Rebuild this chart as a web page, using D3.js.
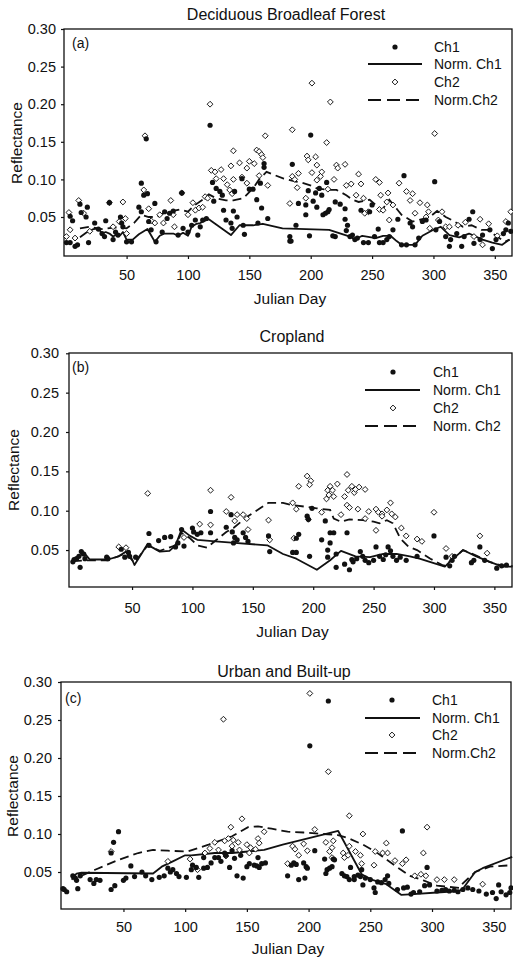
<!DOCTYPE html>
<html><head><meta charset="utf-8">
<script src="https://cdn.jsdelivr.net/npm/d3@7"></script>
<style>
body{margin:0;background:#fff}
svg{display:block}
text{font-family:"Liberation Sans",Arial,Helvetica,sans-serif;fill:#111}
</style>
</head><body>
<svg id="chart" width="513" height="962"></svg>
<script>
// ---------- data ----------
const xTicks=[50,100,150,200,250,300,350];
const yTicks=[0.05,0.10,0.15,0.20,0.25,0.30];
const titles=["Deciduous Broadleaf Forest","Cropland","Urban and Built-up"];
const panelLabels=["(a)","(b)","(c)"];
const legendA=["Ch1","Norm. Ch1","Ch2","Norm.Ch2"];
const legendB=["Ch1","Norm. Ch1","Ch2","Norm. Ch2"];
const legendC=["Ch1","Norm. Ch1","Ch2","Norm.Ch2"];
const xLabel="Julian Day";
const yLabel="Reflectance";

// Panel (a) Deciduous Broadleaf Forest : [day, reflectance]
const aCh1=[[1,0.016],[4,0.016],[8,0.011],[10,0.013],[4,0.051],[6,0.045],[12,0.067],[13,0.056],[17,0.050],[18,0.063],[19,0.016],[24,0.042],[27,0.034],[30,0.028],[32,0.024],[33,0.045],[36,0.069],[39,0.020],[41,0.030],[43,0.026],[45,0.050],[46,0.042],[47,0.037],[50,0.017],[54,0.017],[60,0.063],[62,0.095],[64,0.079],[66,0.154],[67,0.081],[62,0.057],[68,0.044],[70,0.033],[73,0.068],[74,0.017],[79,0.030],[81,0.057],[83,0.048],[85,0.055],[88,0.058],[92,0.026],[95,0.082],[96,0.035],[100,0.030],[103,0.039],[106,0.046],[108,0.026],[110,0.037],[112,0.046],[115,0.048],[118,0.172],[120,0.096],[121,0.071],[123,0.088],[126,0.084],[128,0.079],[129,0.059],[131,0.046],[135,0.042],[136,0.035],[137,0.058],[138,0.084],[140,0.050],[144,0.101],[145,0.039],[146,0.027],[150,0.087],[153,0.087],[156,0.073],[157,0.042],[159,0.095],[160,0.062],[162,0.121],[162,0.116],[165,0.048],[183,0.018],
[200,0.159],[185,0.120],[183,0.024],[184,0.018],[188,0.039],[190,0.068],[196,0.066],[196,0.053],[198,0.085],[199,0.025],[202,0.071],[204,0.082],[205,0.063],[207,0.088],[209,0.079],[210,0.053],[212,0.055],[213,0.096],[214,0.057],[215,0.060],[218,0.025],[220,0.024],[220,0.070],[224,0.067],[228,0.061],[228,0.047],[229,0.032],[230,0.039],[232,0.024],[234,0.026],[236,0.020],[238,0.022],[241,0.059],[243,0.016],[247,0.016],[248,0.057],[250,0.066],[252,0.024],[255,0.034],[256,0.016],[259,0.016],[262,0.020],[264,0.024],[267,0.033],[271,0.047],[274,0.013],[276,0.105],[278,0.013],[281,0.042],[283,0.037],[285,0.013],[288,0.022],[291,0.044],[294,0.046],[301,0.097],[302,0.033],[305,0.044],[310,0.024],[313,0.011],[314,0.020],[319,0.028],[323,0.011],[325,0.024],[329,0.047],[332,0.057],[333,0.015],[338,0.020],[340,0.026],[346,0.033],[348,0.008],[351,0.020],[357,0.028],[359,0.033],[361,0.042],[363,0.031]];
const aCh2=[[1,0.024],[3,0.056],[4,0.033],[11,0.072],[8,0.022],[15,0.055],[20,0.031],[36,0.069],[39,0.037],[44,0.044],[47,0.070],[49,0.048],[50,0.028],[65,0.158],[64,0.086],[68,0.061],[70,0.045],[73,0.042],[77,0.053],[80,0.042],[86,0.072],[88,0.053],[89,0.037],[95,0.082],[100,0.053],[104,0.069],[106,0.059],[109,0.062],[112,0.063],[114,0.077],[116,0.075],[118,0.200],[119,0.112],[122,0.110],[123,0.101],[127,0.113],[129,0.101],[132,0.093],[134,0.086],[135,0.118],[136,0.081],[137,0.138],[137,0.100],[142,0.122],[144,0.103],[148,0.095],[148,0.115],[150,0.124],[154,0.121],[156,0.139],[158,0.137],[160,0.133],[161,0.129],[158,0.105],[163,0.158],[165,0.092],[183,0.068],
[185,0.166],[213,0.149],[197,0.131],[198,0.126],[204,0.130],[185,0.104],[187,0.100],[190,0.108],[189,0.089],[196,0.075],[201,0.109],[205,0.099],[205,0.119],[208,0.104],[209,0.110],[214,0.087],[219,0.100],[221,0.119],[222,0.115],[228,0.120],[229,0.092],[233,0.094],[237,0.079],[239,0.107],[241,0.094],[243,0.075],[244,0.055],[247,0.057],[253,0.100],[256,0.096],[257,0.079],[256,0.060],[259,0.059],[262,0.070],[263,0.082],[264,0.046],[272,0.095],[267,0.066],[278,0.084],[283,0.081],[281,0.072],[285,0.055],[289,0.069],[294,0.050],[295,0.066],[296,0.057],[301,0.161],[304,0.046],[307,0.057],[297,0.035],[310,0.037],[313,0.037],[320,0.039],[326,0.043],[338,0.047],[340,0.013],[345,0.041],[352,0.025],[359,0.044],[363,0.057],[333,0.024],[201,0.228],[216,0.203]];
const aNorm1=[[12,0.023],[17,0.029],[23,0.034],[27,0.035],[30,0.028],[33,0.030],[36,0.028],[39,0.024],[42,0.027],[45,0.026],[47,0.030],[50,0.020],[55,0.020],[60,0.027],[67,0.034],[73,0.017],[77,0.025],[81,0.028],[88,0.028],[92,0.025],[96,0.029],[100,0.025],[103,0.037],[107,0.041],[110,0.042],[114,0.045],[117,0.047],[135,0.026],[142,0.039],[153,0.039],[161,0.041],[177,0.035],[215,0.033],[232,0.024],[236,0.020],[242,0.025],[253,0.022],[259,0.025],[265,0.025],[270,0.018],[274,0.013],[285,0.013],[291,0.025],[300,0.033],[306,0.037],[313,0.026],[321,0.023],[329,0.028],[340,0.020],[348,0.016],[356,0.013],[362,0.020]];
const aNorm2=[[12,0.035],[20,0.037],[30,0.034],[40,0.036],[50,0.035],[56,0.042],[62,0.053],[68,0.050],[75,0.050],[80,0.055],[88,0.058],[93,0.060],[100,0.057],[105,0.065],[111,0.072],[117,0.080],[123,0.075],[131,0.072],[137,0.072],[145,0.075],[153,0.088],[158,0.100],[164,0.110],[178,0.101],[188,0.097],[192,0.096],[202,0.091],[205,0.088],[215,0.086],[221,0.086],[229,0.079],[234,0.073],[239,0.070],[248,0.073],[258,0.059],[264,0.073],[271,0.059],[274,0.053],[283,0.044],[288,0.046],[297,0.050],[303,0.058],[310,0.050],[316,0.045],[324,0.037],[331,0.039],[339,0.033],[344,0.033],[358,0.017],[362,0.020]];

// Panel (b) Cropland
const bCh1=[[1,0.035],[2,0.038],[4,0.039],[6,0.042],[7,0.028],[8,0.048],[10,0.045],[11,0.039],[29,0.041],[30,0.039],[41,0.051],[44,0.041],[47,0.047],[48,0.042],[53,0.041],[64,0.071],[64,0.056],[72,0.062],[77,0.066],[82,0.067],[86,0.054],[88,0.059],[91,0.076],[93,0.055],[100,0.078],[101,0.073],[104,0.070],[107,0.072],[115,0.072],[115,0.099],[128,0.079],[132,0.095],[133,0.073],[134,0.059],[135,0.066],[137,0.063],[142,0.072],[144,0.066],[146,0.061],[163,0.068],[164,0.048],
[183,0.047],[186,0.047],[195,0.093],[196,0.089],[197,0.042],[186,0.065],[188,0.070],[199,0.103],[207,0.063],[210,0.087],[212,0.050],[212,0.041],[214,0.059],[214,0.072],[217,0.072],[219,0.045],[219,0.028],[226,0.032],[228,0.072],[230,0.025],[232,0.038],[233,0.035],[236,0.039],[239,0.048],[241,0.042],[243,0.037],[246,0.034],[250,0.037],[252,0.054],[255,0.042],[258,0.038],[260,0.044],[262,0.054],[264,0.049],[266,0.042],[269,0.037],[272,0.041],[277,0.037],[286,0.042],[300,0.068],[310,0.041],[313,0.030],[315,0.037],[317,0.042],[331,0.034],[333,0.037],[338,0.054],[342,0.037],[352,0.027],[356,0.030],[360,0.031]];
const bCh2=[[39,0.054],[45,0.053],[63,0.122],[93,0.066],[106,0.083],[115,0.126],[115,0.082],[128,0.099],[132,0.117],[135,0.087],[137,0.095],[142,0.095],[145,0.090],[146,0.076],[163,0.088],[164,0.063],
[183,0.110],[186,0.102],[188,0.131],[184,0.065],[195,0.144],[198,0.138],[197,0.133],[196,0.089],[207,0.098],[211,0.115],[212,0.126],[214,0.131],[216,0.126],[213,0.120],[217,0.118],[220,0.134],[228,0.146],[226,0.118],[229,0.126],[232,0.131],[234,0.123],[235,0.127],[238,0.130],[243,0.127],[228,0.107],[230,0.104],[223,0.095],[237,0.102],[243,0.090],[246,0.099],[252,0.102],[254,0.098],[257,0.096],[261,0.101],[264,0.110],[265,0.096],[268,0.092],[252,0.075],[273,0.078],[277,0.068],[286,0.064],[290,0.061],[300,0.098],[310,0.052],[315,0.042],[338,0.068],[344,0.046],[257,0.093]];
const bNorm1=[[1,0.037],[6,0.041],[10,0.047],[15,0.038],[30,0.038],[39,0.042],[45,0.048],[48,0.045],[52,0.031],[63,0.058],[66,0.054],[73,0.048],[81,0.049],[86,0.056],[91,0.076],[98,0.068],[104,0.063],[119,0.061],[135,0.059],[162,0.056],[175,0.045],[186,0.039],[203,0.025],[214,0.037],[223,0.049],[235,0.042],[247,0.041],[258,0.045],[269,0.045],[280,0.042],[288,0.039],[309,0.029],[313,0.035],[324,0.050],[335,0.042],[346,0.035],[357,0.029],[365,0.029]];
const bNorm2=[[1,0.036],[15,0.037],[30,0.037],[45,0.046],[52,0.034],[63,0.056],[73,0.049],[86,0.056],[91,0.072],[98,0.065],[104,0.056],[112,0.053],[120,0.063],[128,0.073],[134,0.078],[145,0.092],[156,0.103],[163,0.110],[175,0.110],[183,0.107],[194,0.105],[203,0.103],[214,0.101],[217,0.090],[223,0.086],[230,0.089],[241,0.088],[250,0.086],[255,0.084],[261,0.088],[266,0.084],[272,0.065],[279,0.054],[286,0.050],[297,0.039],[308,0.030],[316,0.039],[324,0.050],[335,0.043],[346,0.035],[357,0.030],[365,0.030]];

// Panel (c) Urban and Built-up
const cCh1=[[1,0.028],[2,0.027],[4,0.024],[9,0.045],[11,0.042],[12,0.039],[13,0.028],[15,0.045],[23,0.040],[26,0.035],[28,0.040],[31,0.039],[40,0.075],[42,0.089],[46,0.103],[40,0.027],[43,0.032],[50,0.039],[52,0.042],[56,0.058],[59,0.044],[65,0.050],[68,0.045],[73,0.040],[79,0.043],[83,0.045],[86,0.055],[88,0.050],[90,0.053],[93,0.048],[95,0.044],[101,0.043],[105,0.053],[106,0.059],[109,0.056],[111,0.043],[115,0.069],[115,0.055],[118,0.056],[121,0.062],[124,0.069],[127,0.069],[129,0.064],[132,0.075],[133,0.072],[136,0.056],[138,0.078],[140,0.068],[142,0.045],[145,0.072],[147,0.042],[150,0.057],[152,0.061],[156,0.059],[158,0.058],[160,0.056],[162,0.061],[165,0.062],[159,0.069],[183,0.045],
[186,0.059],[188,0.062],[190,0.060],[192,0.040],[196,0.062],[198,0.057],[197,0.042],[199,0.055],[205,0.078],[213,0.067],[214,0.048],[215,0.053],[217,0.055],[219,0.057],[220,0.067],[221,0.066],[227,0.048],[229,0.045],[231,0.044],[233,0.040],[234,0.056],[237,0.044],[237,0.040],[240,0.046],[242,0.044],[244,0.033],[243,0.053],[246,0.042],[250,0.040],[253,0.029],[254,0.023],[256,0.037],[259,0.036],[262,0.040],[264,0.045],[265,0.035],[276,0.104],[277,0.029],[280,0.030],[283,0.021],[285,0.023],[290,0.024],[294,0.032],[296,0.056],[298,0.033],[304,0.025],[308,0.026],[311,0.027],[314,0.025],[318,0.026],[321,0.024],[325,0.027],[329,0.029],[333,0.027],[338,0.025],[344,0.021],[349,0.023],[352,0.015],[354,0.033],[356,0.024],[360,0.020],[363,0.023],[364,0.029],[272,0.027],[201,0.216],[216,0.275]];
const cCh2=[[40,0.077],[86,0.064],[104,0.067],[110,0.053],[116,0.075],[120,0.081],[124,0.089],[131,0.251],[132,0.091],[137,0.109],[135,0.094],[139,0.092],[138,0.084],[143,0.089],[146,0.120],[144,0.079],[150,0.086],[153,0.082],[157,0.080],[159,0.094],[160,0.088],[164,0.103],[133,0.071],[127,0.079],[152,0.075],
[216,0.182],[233,0.124],[205,0.106],[187,0.084],[189,0.080],[192,0.072],[183,0.061],[196,0.087],[199,0.078],[214,0.089],[217,0.077],[220,0.091],[219,0.082],[219,0.069],[228,0.075],[229,0.069],[232,0.072],[233,0.084],[238,0.077],[242,0.072],[244,0.100],[243,0.061],[253,0.059],[254,0.077],[260,0.075],[263,0.088],[264,0.075],[270,0.065],[276,0.061],[279,0.066],[286,0.045],[291,0.047],[293,0.075],[296,0.109],[295,0.045],[304,0.040],[310,0.040],[318,0.040],[341,0.034],[201,0.285]];
const cNorm1=[[8,0.040],[12,0.048],[16,0.049],[74,0.048],[81,0.057],[90,0.064],[100,0.072],[105,0.072],[124,0.075],[138,0.075],[164,0.079],[179,0.086],[224,0.104],[243,0.047],[251,0.040],[263,0.034],[275,0.020],[285,0.021],[304,0.023],[322,0.025],[325,0.028],[335,0.050],[341,0.055],[365,0.070]];
const cNorm2=[[16,0.045],[27,0.053],[46,0.066],[62,0.075],[74,0.079],[86,0.078],[102,0.077],[119,0.086],[138,0.097],[151,0.109],[159,0.110],[170,0.107],[183,0.103],[196,0.102],[212,0.100],[223,0.099],[233,0.094],[244,0.086],[254,0.077],[260,0.070],[273,0.055],[282,0.045],[293,0.039],[304,0.032],[322,0.029],[325,0.035],[335,0.050],[347,0.057],[365,0.059]];

// ---------- layout ----------
const panels=[
 {ch1:aCh1,ch2:aCh2,n1:aNorm1,n2:aNorm2,leg:legendA,
  left:64,right:512,top:29,bottom:256,xd:[-1,364],yr:[254.6,29],
  titleX:286,titleY:20,ylabX:17,ylabY:143,yPad:5,xPad:11,xlabY:304,
  plX:72,plY:48,legRows:[47,64,82,100],legText:434,legSym:395,legL:368,legR:422},
 {ch1:bCh1,ch2:bCh2,n1:bNorm1,n2:bNorm2,leg:legendB,
  left:69,right:512,top:353,bottom:587,xd:[-2.2,364.6],yr:[589.4,353.3],
  titleX:292,titleY:342,ylabX:14,ylabY:470,yPad:7,xPad:13,xlabY:637,
  plX:72,plY:372,legRows:[372,390,408,426],legText:433,legSym:393,legL:365,legR:420},
 {ch1:cCh1,ch2:cCh2,n1:cNorm1,n2:cNorm2,leg:legendC,
  left:61,right:511,top:682,bottom:909,xd:[-0.6,364],yr:[910,682],
  titleX:284,titleY:677,ylabX:13,ylabY:796,yPad:6,xPad:10,xlabY:954,
  plX:65,plY:703,legRows:[700,718,735,753],legText:432,legSym:392,legL:365,legR:420}
];

const svg=d3.select("#chart");
const ink="#111";
const diamond=d3.symbol().type(d3.symbolSquare).size(17);

panels.forEach((p,i)=>{
  const x=d3.scaleLinear().domain(p.xd).range([p.left,p.right]);
  const y=d3.scaleLinear().domain([0,0.3]).range(p.yr);
  const g=svg.append("g");

  // title
  g.append("text").attr("x",p.titleX).attr("y",p.titleY).attr("text-anchor","middle")
   .style("font-size","16px").text(titles[i]);

  // axes
  const yAx=g.append("g").attr("transform",`translate(${p.left},0)`)
   .call(d3.axisLeft(y).tickValues(yTicks).tickSize(3).tickPadding(p.yPad).tickFormat(d3.format(".2f")));
  const xAx=g.append("g").attr("transform",`translate(0,${p.bottom})`)
   .call(d3.axisBottom(x).tickValues(xTicks).tickSize(3).tickPadding(p.xPad));
  [yAx,xAx].forEach(a=>{
    a.select(".domain").remove();
    a.selectAll(".tick line").attr("stroke",ink).attr("stroke-width",1.2);
    a.selectAll(".tick text").style("font-size","14.5px").attr("fill",ink)
      .style("font-family","'Liberation Sans',Arial,sans-serif");
  });

  // frame
  g.append("rect").attr("x",p.left).attr("y",p.top)
   .attr("width",p.right-p.left).attr("height",p.bottom-p.top)
   .attr("fill","none").attr("stroke",ink).attr("stroke-width",1.3);

  // axis labels
  g.append("text").attr("transform",`translate(${p.ylabX},${p.ylabY}) rotate(-90)`)
   .attr("text-anchor","middle").attr("dy","0.35em").style("font-size","15.5px").text(yLabel);
  g.append("text").attr("x",(p.left+p.right)/2+2).attr("y",p.xlabY).attr("text-anchor","middle")
   .style("font-size","15.5px").text(xLabel);

  // panel label
  g.append("text").attr("x",p.plX).attr("y",p.plY).style("font-size","14px").text(panelLabels[i]);

  // lines
  const line=d3.line().x(d=>x(d[0])).y(d=>y(d[1]));
  g.append("path").datum(p.n1).attr("d",line).attr("fill","none")
   .attr("stroke",ink).attr("stroke-width",1.8).attr("stroke-linejoin","round");
  g.append("path").datum(p.n2).attr("d",line).attr("fill","none")
   .attr("stroke",ink).attr("stroke-width",1.8).attr("stroke-dasharray","9,5");

  // Ch2 diamonds
  g.append("g").selectAll("path").data(p.ch2).join("path")
   .attr("d",diamond).attr("transform",d=>`translate(${x(d[0])},${y(d[1])}) rotate(45)`)
   .attr("fill","#fff").attr("stroke",ink).attr("stroke-width",0.9);
  // Ch1 dots
  g.append("g").selectAll("circle").data(p.ch1).join("circle")
   .attr("cx",d=>x(d[0])).attr("cy",d=>y(d[1])).attr("r",2.6).attr("fill",ink);

  // legend
  const lg=g.append("g");
  p.leg.forEach((t,k)=>{
    lg.append("text").attr("x",p.legText).attr("y",p.legRows[k]).attr("dy","0.35em")
      .style("font-size","14px").text(t);
  });
  lg.append("circle").attr("cx",p.legSym).attr("cy",p.legRows[0]).attr("r",2.6).attr("fill",ink);
  lg.append("line").attr("x1",p.legL).attr("x2",p.legR).attr("y1",p.legRows[1]).attr("y2",p.legRows[1])
    .attr("stroke",ink).attr("stroke-width",1.8);
  lg.append("path").attr("d",diamond).attr("transform",`translate(${p.legSym},${p.legRows[2]}) rotate(45)`)
    .attr("fill","#fff").attr("stroke",ink).attr("stroke-width",0.9);
  lg.append("line").attr("x1",p.legL).attr("x2",p.legR).attr("y1",p.legRows[3]).attr("y2",p.legRows[3])
    .attr("stroke",ink).attr("stroke-width",1.8).attr("stroke-dasharray","13,6");
});
</script>
</body></html>
